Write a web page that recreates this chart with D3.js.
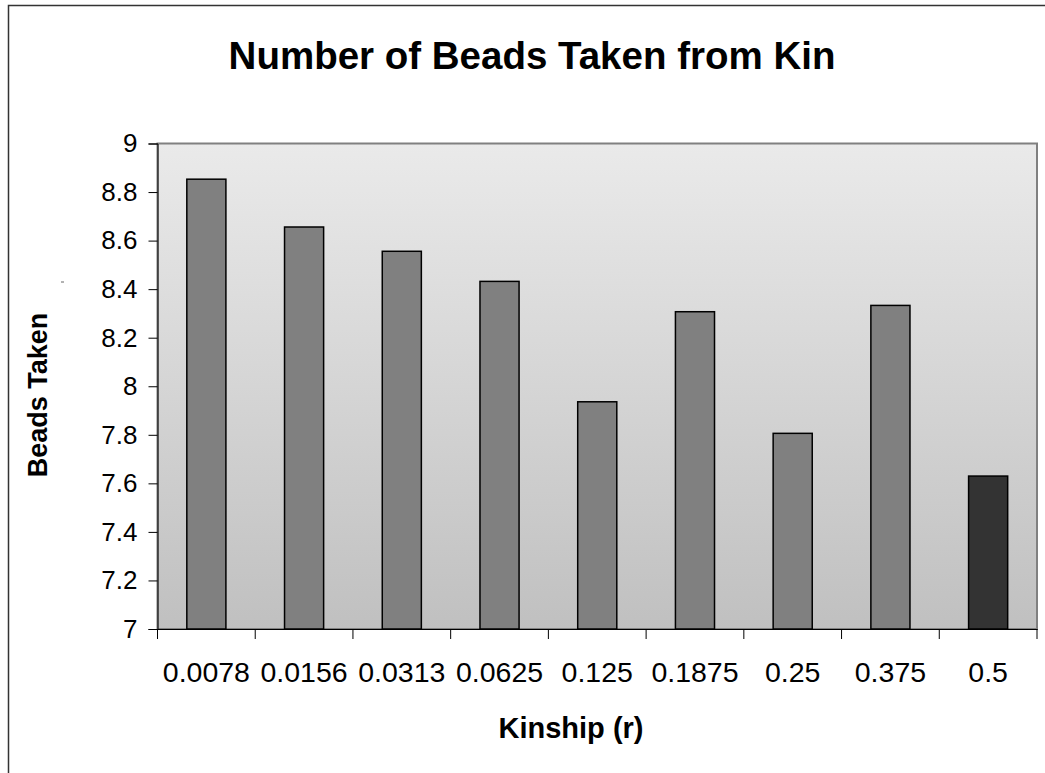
<!DOCTYPE html>
<html><head><meta charset="utf-8">
<script src="https://cdn.jsdelivr.net/npm/d3@7"></script>
<style>body{margin:0;background:#fff}svg{display:block}text{font-family:"Liberation Sans",Arial,sans-serif}</style>
</head><body>
<script>
const categories = ["0.0078","0.0156","0.0313","0.0625","0.125","0.1875","0.25","0.375","0.5"];
const values = [8.853, 8.656, 8.556, 8.432, 7.936, 8.307, 7.806, 8.333, 7.63];
const barColors = ["#808080","#808080","#808080","#808080","#808080","#808080","#808080","#808080","#333333"];
const yTicks = [7, 7.2, 7.4, 7.6, 7.8, 8, 8.2, 8.4, 8.6, 8.8, 9];
const title = "Number of Beads Taken from Kin";
const xTitle = "Kinship (r)";
const yTitle = "Beads Taken";

const W = 1045, H = 773;
const L = 157.5, R = 1037, T = 143.5, B = 629;
const svg = d3.select("body").append("svg").attr("width", W).attr("height", H);

// outer chart border
svg.append("rect").attr("x", 8.5).attr("y", 5.5).attr("width", 1100).attr("height", 900)
  .attr("fill", "#fff").attr("stroke", "#333").attr("stroke-width", 1.5);

const defs = svg.append("defs");
const grad = defs.append("linearGradient").attr("id", "bg").attr("x1", 0).attr("y1", 0).attr("x2", 0).attr("y2", 1);
grad.append("stop").attr("offset", "0%").attr("stop-color", "#eaeaea");
grad.append("stop").attr("offset", "100%").attr("stop-color", "#c0c0c0");

const x = d3.scaleBand().domain(categories).range([L, R]).paddingInner(0).paddingOuter(0);
const y = d3.scaleLinear().domain([7, 9]).range([B, T]);

// plot area
svg.append("rect").attr("x", L).attr("y", T).attr("width", R - L).attr("height", B - T)
  .attr("fill", "url(#bg)").attr("stroke", "#808080").attr("stroke-width", 2);

// bars
const bw = x.bandwidth() / 2.5;
svg.append("g").selectAll("rect").data(values).join("rect")
  .attr("x", (d, i) => x(categories[i]) + (x.bandwidth() - bw) / 2)
  .attr("y", d => y(d))
  .attr("width", bw)
  .attr("height", d => y(7) - y(d))
  .attr("fill", (d, i) => barColors[i])
  .attr("stroke", "#000").attr("stroke-width", 1.5);

// y axis
const yAxis = d3.axisLeft(y).tickValues(yTicks).tickFormat(d3.format("~g")).tickSize(9).tickPadding(11);
const gy = svg.append("g").attr("transform", `translate(${L},0)`).call(yAxis);
gy.select(".domain").attr("stroke", "#000");
gy.selectAll(".tick line").attr("stroke", "#000");
gy.selectAll("text").attr("font-size", 26).attr("fill", "#000").attr("font-family", '"Liberation Sans",Arial,sans-serif');

// x axis
const xAxis = d3.axisBottom(x).tickSize(0).tickPadding(33);
const gx = svg.append("g").attr("transform", `translate(0,${B})`).call(xAxis);
gx.select(".domain").attr("stroke", "#000").attr("stroke-width", 1.2);
gx.selectAll("text").attr("font-size", 28.5).attr("fill", "#000").attr("font-family", '"Liberation Sans",Arial,sans-serif');
// boundary ticks
const bounds = categories.map(c => x(c)).concat([R]);
svg.append("g").selectAll("line").data(bounds).join("line")
  .attr("x1", d => d).attr("x2", d => d).attr("y1", B).attr("y2", B + 10)
  .attr("stroke", "#000");

// titles
svg.append("text").attr("x", 532).attr("y", 69).attr("text-anchor", "middle")
  .attr("font-size", 38.5).attr("font-weight", "bold").text(title);
svg.append("text").attr("x", 571).attr("y", 738).attr("text-anchor", "middle")
  .attr("font-size", 29).attr("font-weight", "bold").text(xTitle);
svg.append("text").attr("transform", `translate(47,${395}) rotate(-90)`).attr("text-anchor", "middle")
  .attr("font-size", 27).attr("font-weight", "bold").text(yTitle);
// small stray mark near y title
svg.append("line").attr("x1", 61).attr("x2", 64).attr("y1", 282).attr("y2", 282).attr("stroke", "#666").attr("stroke-width", 1);
</script>
</body></html>
